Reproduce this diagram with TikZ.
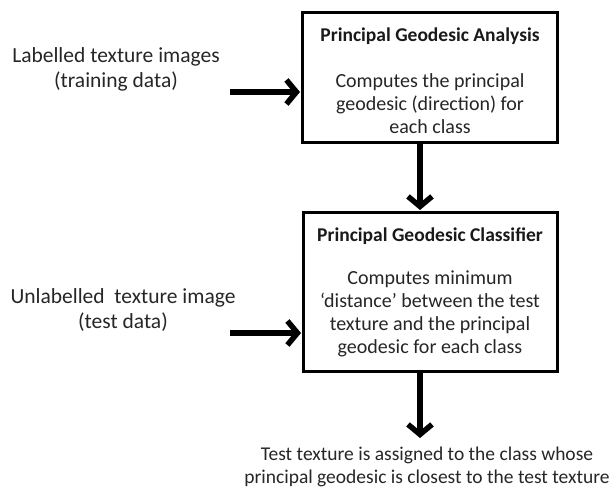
\documentclass[tikz,border=0pt]{standalone}
\usepackage{fontspec}
\setmainfont{Carlito}
\usetikzlibrary{arrows.meta}
\begin{document}
\begin{tikzpicture}[x=1pt,y=-1pt,
  box/.style={draw=black,line width=3pt,fill=white},
  txt/.style={font=\fontsize{20}{23}\selectfont,align=center,text=black!85,inner sep=0pt},
  side/.style={font=\fontsize{21.5}{25}\selectfont,align=center,text=black!85,inner sep=0pt},
  outtxt/.style={font=\fontsize{19.5}{23}\selectfont,align=center,text=black!85,inner sep=0pt},
  ttl/.style={font=\fontsize{19.5}{22}\selectfont\bfseries,text=black!90,inner sep=0pt},
  arr/.style={line width=5.5pt,-{Straight Barb[length=10pt,width=24pt,line width=5.5pt]}}]
\useasboundingbox (0,0) rectangle (615,489);
\fill[white] (0,0) rectangle (615,489);
\draw[box] (302,13) rectangle (557,143);
\draw[box] (303,212) rectangle (557,371);
\node[ttl] (t1) at (430,36) {Principal Geodesic Analysis};
\node[txt] (d1) at (430,104) {Computes the principal\\geodesic (direction) for\\each class};
\node[ttl] (t2) at (430,236) {Principal Geodesic Classifier};
\node[txt] (d2) at (430,314) {Computes minimum\\‘distance’ between the test\\texture and the principal\\geodesic for each class};
\node[side] (in1) at (116,69) {Labelled texture images\\(training data)};
\node[side] (in2) at (123,310) {Unlabelled\ \ texture image\\(test data)};
\node[outtxt] (out) at (427,467) {Test texture is assigned to the class whose\\principal geodesic is closest to the test texture};
\coordinate (a1s) at (230,92); \coordinate (a1e) at (300,92);
\coordinate (a2s) at (230,333); \coordinate (a2e) at (301,333);
\coordinate (a3s) at (420,144); \coordinate (a3e) at (420,210);
\coordinate (a4s) at (420,372); \coordinate (a4e) at (420,438);
\draw[arr] (a1s) -- (a1e);
\draw[arr] (a2s) -- (a2e);
\draw[arr] (a3s) -- (a3e);
\draw[arr] (a4s) -- (a4e);
\end{tikzpicture}
\end{document}
